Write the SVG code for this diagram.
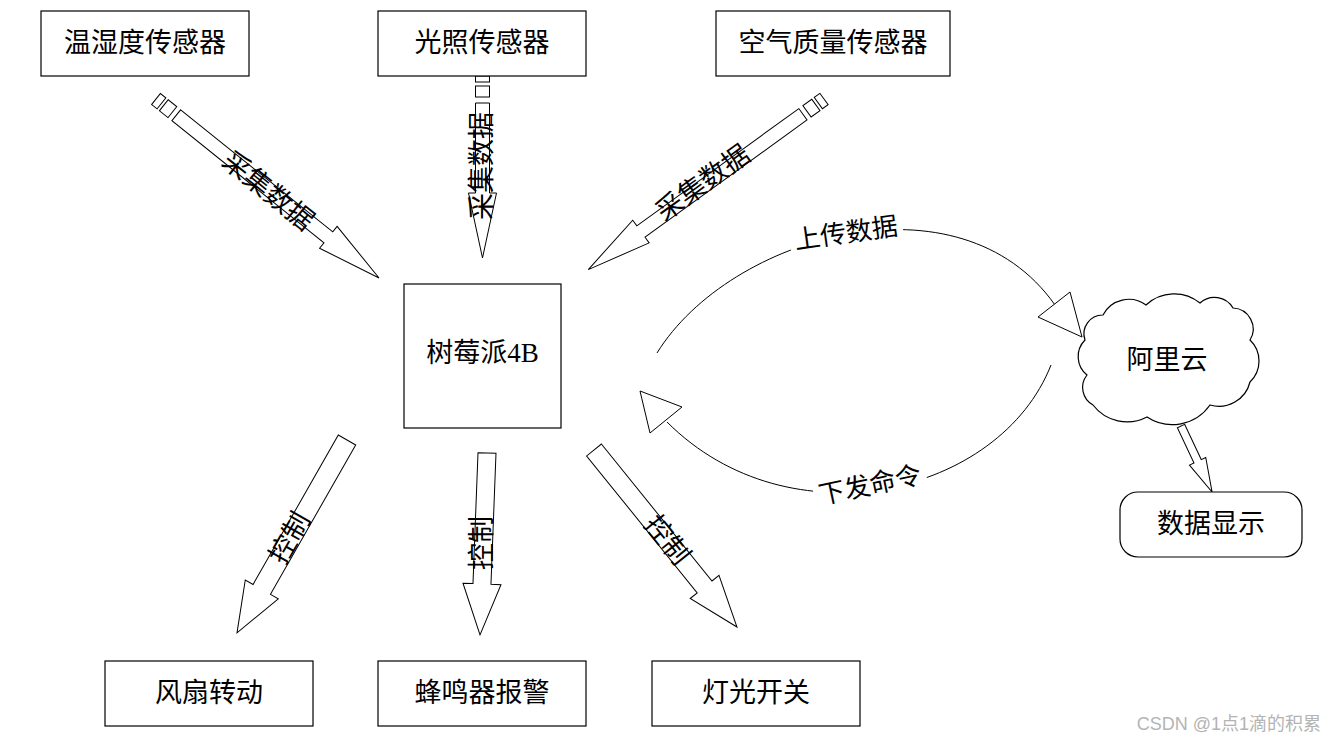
<svg xmlns="http://www.w3.org/2000/svg" width="1336" height="743" viewBox="0 0 1336 743">
<style>
.box{fill:#fff;stroke:#000;stroke-width:1.2}
.ln{fill:none;stroke:#000;stroke-width:1}
.ah{fill:#fff;stroke:#000;stroke-width:1}
.t{font-family:"Liberation Serif","Noto Sans CJK SC",serif;font-size:27px;fill:#000;text-anchor:middle}
.ts{font-family:"Noto Sans CJK SC","Liberation Sans",sans-serif;font-size:26px;fill:#000;text-anchor:middle}
.wm{font-family:"Liberation Sans","Noto Sans CJK SC",sans-serif;font-size:18px;fill:#b4b4b4;text-anchor:end}
</style>
<rect width="1336" height="743" fill="#fff"/>
<g id="connectors">
  <!-- top sensor arrows with tail squares -->
  <g transform="translate(156,99) rotate(38.75)">
    <rect class="ah" x="0" y="-7" width="7" height="14"/>
    <rect class="ah" x="10" y="-7" width="11" height="14"/>
    <polygon class="ah" points="26,-7 221,-7 221,-14 286,0 221,14 221,7 26,7"/>
  </g>
  <g transform="translate(482.5,76) rotate(90)">
    <rect class="ah" x="0" y="-7" width="6" height="14"/>
    <rect class="ah" x="10" y="-7" width="11" height="14"/>
    <polygon class="ah" points="27,-7 117,-7 117,-14 182,0 117,14 117,7 27,7"/>
  </g>
  <g transform="translate(824,99) rotate(144.1)">
    <rect class="ah" x="0" y="-7" width="7" height="14"/>
    <rect class="ah" x="10" y="-7" width="11" height="14"/>
    <polygon class="ah" points="26,-7 226,-7 226,-14 291,0 226,14 226,7 26,7"/>
  </g>
  <text class="t" transform="translate(268,191) rotate(38.75)" y="9">采集数据</text>
  <text class="t" transform="translate(482,166) rotate(-90)" y="9">采集数据</text>
  <text class="t" transform="translate(703,183) rotate(-35.9)" y="9">采集数据</text>
  <!-- control arrows -->
  <g transform="translate(347,440) rotate(119.7)">
    <polygon class="ah" points="0,-10 172,-10 172,-19 222,0 172,19 172,10 0,10"/>
  </g>
  <g transform="translate(487,453) rotate(92.2)">
    <polygon class="ah" points="0,-9 131,-9 131,-19 182,0 131,19 131,9 0,9"/>
  </g>
  <g transform="translate(594,450) rotate(51.07)">
    <polygon class="ah" points="0,-9.5 176,-9.5 176,-18.5 227.5,0 176,18.5 176,9.5 0,9.5"/>
  </g>
  <text class="t" transform="translate(290,538) rotate(-60.3)" y="9">控制</text>
  <text class="t" transform="translate(482,543) rotate(-90)" y="9">控制</text>
  <text class="t" transform="translate(667,540) rotate(51.07)" y="9">控制</text>
  <!-- cloud to display -->
  <g transform="translate(1181,426) rotate(64.8)">
    <polygon class="ah" points="0,-4 39,-4 39,-9 73,0 39,9 39,4 0,4"/>
  </g>
  <!-- upload arc -->
  <path class="ln" d="M657,353 C730,235 960,170 1055,305"/>
  <polygon class="ah" points="1038,317 1070,292 1082,337"/>
  <rect transform="translate(846,233) rotate(-8)" x="-57" y="-16" width="114" height="32" fill="#fff"/>
  <text class="ts" transform="translate(846,233) rotate(-8)" y="9">上传数据</text>
  <!-- command arc -->
  <path class="ln" d="M1051,365 C1000,495 790,545 667,422"/>
  <polygon class="ah" points="682,407 650,433 640,391"/>
  <rect transform="translate(870,485) rotate(-12)" x="-57" y="-16" width="114" height="32" fill="#fff"/>
  <text class="ts" transform="translate(870,485) rotate(-12)" y="9">下发命令</text>
</g>
<g id="node-temp"><rect class="box" x="41" y="11" width="208" height="65"/><text class="t" x="145" y="52">温湿度传感器</text></g>
<g id="node-light"><rect class="box" x="378" y="11" width="208" height="65"/><text class="t" x="482" y="52">光照传感器</text></g>
<g id="node-air"><rect class="box" x="716" y="11" width="234" height="65"/><text class="t" x="833" y="52">空气质量传感器</text></g>
<g id="node-pi"><rect class="box" x="404" y="284" width="157" height="144"/><text class="t" x="482.5" y="362">树莓派4B</text></g>
<g id="node-fan"><rect class="box" x="105" y="661" width="208" height="65"/><text class="t" x="209" y="702">风扇转动</text></g>
<g id="node-buzzer"><rect class="box" x="378" y="661" width="208" height="65"/><text class="t" x="482" y="702">蜂鸣器报警</text></g>
<g id="node-lamp"><rect class="box" x="652" y="661" width="208" height="65"/><text class="t" x="756" y="702">灯光开关</text></g>
<g id="node-cloud">
  <path class="box" d="M1085,340 A18.8,18.8 0 0 1 1103,315 A29,29 0 0 1 1146,305 A41,41 0 0 1 1200,303 A21.4,21.4 0 0 1 1233,308 A21,21 0 0 1 1250,340 A29,29 0 0 1 1250,382 A32,32 0 0 1 1210,405 A46,46 0 0 1 1147,417 A43,43 0 0 1 1093,405 A20,20 0 0 1 1087,375 A23.6,23.6 0 0 1 1085,340 Z"/>
  <text class="t" x="1167" y="369">阿里云</text>
</g>
<g id="node-display"><rect class="box" x="1120" y="492" width="182" height="65" rx="18" ry="18"/><text class="t" x="1211" y="533">数据显示</text></g>
<text class="wm" x="1321" y="730">CSDN @1点1滴的积累</text>
</svg>
